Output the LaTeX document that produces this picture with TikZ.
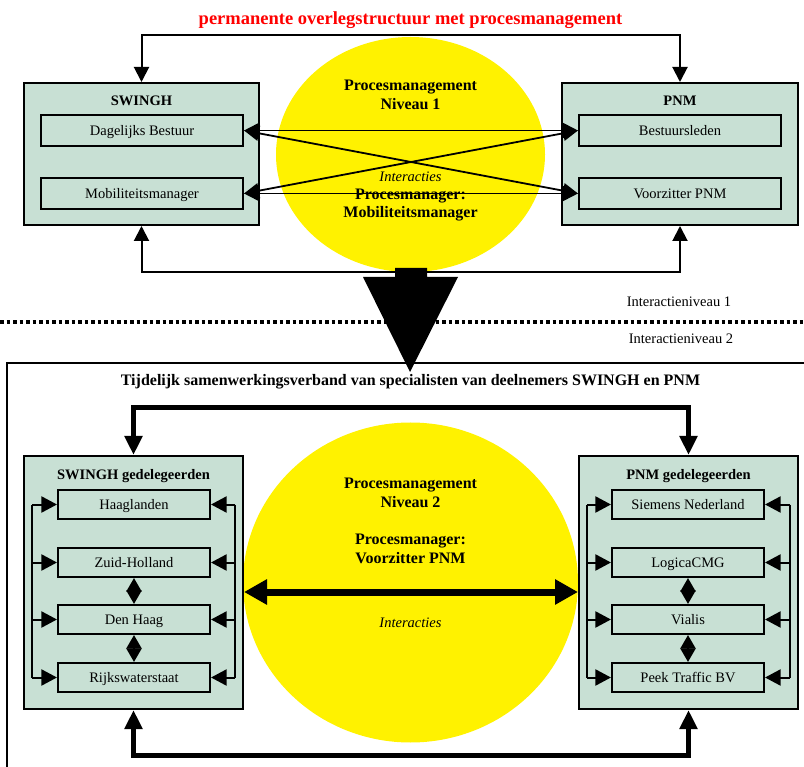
\documentclass[tikz,border=0pt]{standalone}
\usepackage{fontspec}
\setmainfont{Liberation Serif}
\usetikzlibrary{arrows.meta,shapes.geometric}
\definecolor{boxg}{RGB}{200,224,212}
\definecolor{ttred}{RGB}{255,0,0}
\begin{document}
\begin{tikzpicture}[x=1pt,y=-1pt,
  bigbox/.style={draw, line width=2pt, fill=boxg, inner sep=0pt},
  inbox/.style={draw, line width=2.1pt, fill=boxg, inner sep=0pt, text height=9.6pt, text depth=0pt, font=\fontsize{14.5}{16}\selectfont},
  ttl/.style={font=\fontsize{14.5}{16}\selectfont\bfseries, inner sep=0pt, text height=9.6pt, text depth=0pt},
  elltxt/.style={font=\fontsize{16}{18.5}\selectfont\bfseries, align=center, inner sep=0pt},
  itxt/.style={font=\fontsize{14.5}{16}\selectfont\itshape, inner sep=0pt},
  plain/.style={font=\fontsize{14.5}{16}\selectfont, inner sep=0pt},
  yell/.style={ellipse, fill=yellow, draw=none, inner sep=0pt},
  conn/.style={line width=2pt, {Triangle[length=15pt,width=15pt]}-{Triangle[length=15pt,width=15pt]}},
  inter/.style={line width=1.8pt, {Triangle[length=15pt,width=15pt]}-{Triangle[length=15pt,width=15pt]}},
  brk/.style={line width=2pt},
  brkarr/.style={line width=2pt, -{Triangle[length=15.5pt,width=16pt]}},
  dia/.style={line width=2pt, {Triangle[length=13.5pt,width=15pt]}-{Triangle[length=13.5pt,width=15pt]}},
  thk/.style={line width=5pt, {Triangle[length=19pt,width=17pt]}-{Triangle[length=19pt,width=17pt]}},
  dbl/.style={line width=7pt, {Triangle[length=23pt,width=24pt]}-{Triangle[length=23pt,width=24pt]}}
]
\useasboundingbox (0,0) rectangle (804,767);

% ---------- upper level ----------
\node[font=\fontsize{18.5}{20}\selectfont\bfseries, text=ttred, inner sep=0pt] (title) at (410.5,20) {permanente overlegstructuur met procesmanagement};

\node[yell, minimum width=269pt, minimum height=235pt] (e1) at (410.5,154.5) {};
\node[elltxt] (e1a) at (410.5,95) {Procesmanagement\\Niveau 1};
\node[itxt] (e1i) at (410.5,177) {Interacties};
\node[elltxt] (e1b) at (410.5,205) {Procesmanager:\\Mobiliteitsmanager};

\node[bigbox, minimum width=235pt, minimum height=142pt] (sw) at (141.5,154) {};
\node[ttl] (swt) at (141.5,100.5) {SWINGH};
\node[inbox, minimum width=202pt, minimum height=31pt] (db) at (142,130.5) {Dagelijks Bestuur};
\node[inbox, minimum width=202pt, minimum height=31pt] (mm) at (142,193.5) {Mobiliteitsmanager};

\node[bigbox, minimum width=236pt, minimum height=142pt] (pn) at (680,154) {};
\node[ttl] (pnt) at (680,100.5) {PNM};
\node[inbox, minimum width=202pt, minimum height=31pt] (bl) at (680,130.5) {Bestuursleden};
\node[inbox, minimum width=202pt, minimum height=31pt] (vz) at (680,193.5) {Voorzitter PNM};

\coordinate (topl) at (0,35);
\coordinate (botl) at (0,272);
\draw[conn] (sw.north) -- (sw.north |- topl) -| (pn.north);
\draw[conn] (sw.south) -- (sw.south |- botl) -| (pn.south);

\draw[inter] (db.east) -- (bl.west);
\draw[inter] (mm.east) -- (vz.west);
\draw[inter] (db.east) -- (vz.west);
\draw[inter] (mm.east) -- (bl.west);

% ---------- separator ----------
\coordinate (dl) at (0,322);
\coordinate (dr) at (804,322);
\draw[line width=3.3pt, dash pattern=on 3.7pt off 2.8pt] (dl) -- (dr);
\node[plain] (n1) at (679,302) {Interactieniveau 1};
\node[plain] (n2) at (681,339) {Interactieniveau 2};

% ---------- lower level ----------
\coordinate (ob1) at (7,768);
\coordinate (ob2) at (7,363);
\coordinate (ob3) at (805,363);
\draw[line width=1.7pt] (ob1) -- (ob2) -- (ob3);

\fill (395,268) -- (427,268) -- (427,277) -- (458,277) -- (410,372) -- (363,277) -- (395,277) -- cycle;

\node[font=\fontsize{16}{18}\selectfont\bfseries, inner sep=0pt] (tij) at (410.5,382) {Tijdelijk samenwerkingsverband van specialisten van deelnemers SWINGH en PNM};

\node[yell, minimum width=335pt, minimum height=320pt] (e2) at (410.5,582.5) {};
\node[elltxt] (e2a) at (410.5,493) {Procesmanagement\\Niveau 2};
\node[elltxt] (e2b) at (410.5,549) {Procesmanager:\\Voorzitter PNM};
\node[itxt] (e2i) at (410.5,623) {Interacties};

\node[bigbox, minimum width=219pt, minimum height=253pt] (sg) at (133.5,582.5) {};
\node[ttl] (sgt) at (133.5,474.5) {SWINGH gedelegeerden};
\node[inbox, minimum width=152pt, minimum height=29pt] (h1) at (134,504.5) {Haaglanden};
\node[inbox, minimum width=152pt, minimum height=29pt] (h2) at (134,562.5) {Zuid-Holland};
\node[inbox, minimum width=152pt, minimum height=29pt] (h3) at (134,619.5) {Den Haag};
\node[inbox, minimum width=152pt, minimum height=29pt] (h4) at (134,677.5) {Rijkswaterstaat};

\node[bigbox, minimum width=219pt, minimum height=253pt] (pg) at (688.5,582.5) {};
\node[ttl] (pgt) at (688.5,474.5) {PNM gedelegeerden};
\node[inbox, minimum width=152pt, minimum height=29pt] (p1) at (688,504.5) {Siemens Nederland};
\node[inbox, minimum width=152pt, minimum height=29pt] (p2) at (688,562.5) {LogicaCMG};
\node[inbox, minimum width=152pt, minimum height=29pt] (p3) at (688,619.5) {Vialis};
\node[inbox, minimum width=152pt, minimum height=29pt] (p4) at (688,677.5) {Peek Traffic BV};

\coordinate (lx) at (32,0);
\coordinate (rx) at (235,0);
\coordinate (plx) at (587,0);
\coordinate (prx) at (790,0);
\draw[brk] (h1.west -| lx) -- (h4.west -| lx);
\draw[brk] (h1.east -| rx) -- (h4.east -| rx);
\draw[brk] (p1.west -| plx) -- (p4.west -| plx);
\draw[brk] (p1.east -| prx) -- (p4.east -| prx);
\foreach \i in {1,2,3,4}{
  \draw[brkarr] (h\i.west -| lx) -- (h\i.west);
  \draw[brkarr] (h\i.east -| rx) -- (h\i.east);
  \draw[brkarr] (p\i.west -| plx) -- (p\i.west);
  \draw[brkarr] (p\i.east -| prx) -- (p\i.east);
}
\draw[dia] (h2.south) -- (h3.north);
\draw[dia] (h3.south) -- (h4.north);
\draw[dia] (p2.south) -- (p3.north);
\draw[dia] (p3.south) -- (p4.north);

\coordinate (tl2) at (0,408);
\coordinate (bl2) at (0,755);
\draw[thk] (sg.north) -- (sg.north |- tl2) -| (pg.north);
\draw[thk] (sg.south) -- (sg.south |- bl2) -| (pg.south);

\coordinate (ya) at (0,592);
\draw[dbl] (sg.east |- ya) -- (pg.west |- ya);
\end{tikzpicture}
\end{document}
